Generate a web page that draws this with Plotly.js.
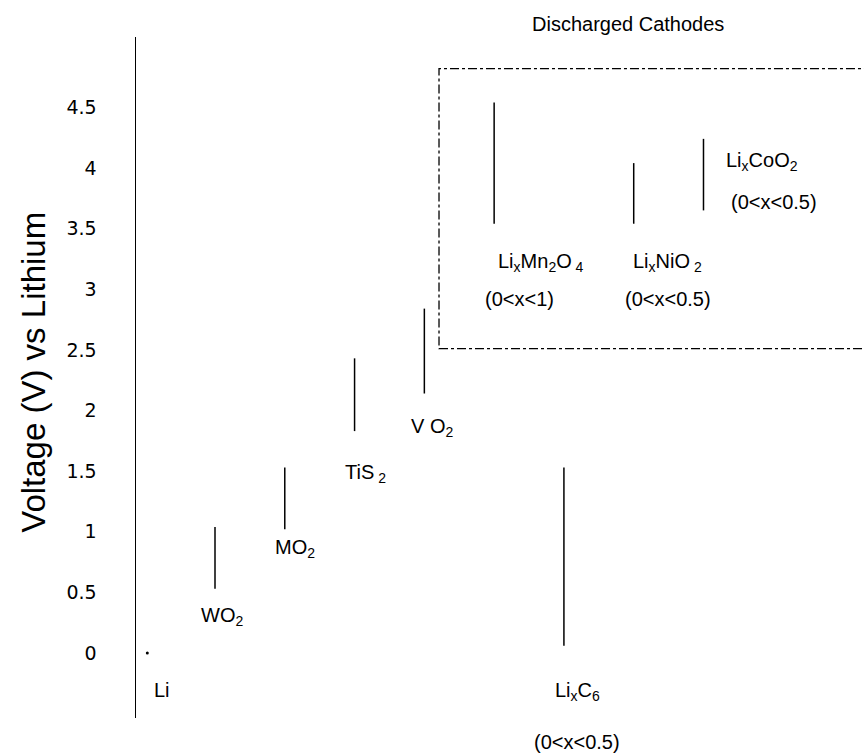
<!DOCTYPE html>
<html>
<head>
<meta charset="utf-8">
<script src="https://cdn.plot.ly/plotly-3.0.1.min.js"></script>
<style>html,body{margin:0;padding:0;background:#fff;}#chart{width:864px;height:755px;}</style>
</head>
<body>
<div id="chart"></div>
<script>
// Voltage windows (V vs Li) of each electrode material
const materials = ["WO2", "MO2", "TiS2", "VO2", "LixMn2O4", "LixC6", "LixNiO2", "LixCoO2"];
const positions = [1, 2, 3, 4, 5, 6, 7, 8];
const vLow  = [0.53, 1.02, 1.83, 2.14, 3.54, 0.06, 3.54, 3.65];
const vHigh = [1.04, 1.53, 2.43, 2.84, 4.54, 1.53, 4.04, 4.24];

// lithium reference point
const liPos = [0.03];
const liV = [0];

// axis ticks
const tickVals = [0, 0.5, 1, 1.5, 2, 2.5, 3, 3.5, 4, 4.5];
const tickText = ["0", "0.5", "1", "1.5", "2", "2.5", "3", "3.5", "4", "4.5"];

// labels (text, x in category units, y in volts)
const labelText = ["Li", "WO<sub>2</sub>", "MO<sub>2</sub>", "TiS<sub> 2</sub>", "V O<sub>2</sub>",
  "Li<sub>x</sub>Mn<sub>2</sub>O<sub> 4</sub>", "(0&lt;x&lt;1)",
  "Li<sub>x</sub>NiO<sub> 2</sub>", "(0&lt;x&lt;0.5)",
  "Li<sub>x</sub>CoO<sub>2</sub>", "(0&lt;x&lt;0.5)",
  "Li<sub>x</sub>C<sub>6</sub>"];
const labelX = [0.24, 1.10, 2.14, 3.16, 4.11, 5.67, 5.37, 7.48, 7.49, 8.84, 9.01, 6.20];
const labelY = [-0.305, 0.30, 0.86, 1.48, 1.86, 3.22, 2.92, 3.22, 2.92, 4.05, 3.72, -0.32];

// cathode region box (x in category units, y in volts)
const boxX = [4.21, 10.6];
const boxY = [2.51, 4.82];

const lx = [], ly = [];
for (let i = 0; i < materials.length; i++) {
  lx.push(positions[i], positions[i], null);
  ly.push(vLow[i], vHigh[i], null);
}

const traces = [
  {x: lx, y: ly, mode: "lines", type: "scatter", line: {color: "#000", width: 1.5},
   hoverinfo: "skip", showlegend: false, cliponaxis: false},
  {x: liPos, y: liV, mode: "markers", type: "scatter", marker: {color: "#000", size: 3},
   hoverinfo: "skip", showlegend: false}
];

const labelFont = {family: "Liberation Sans, Arial, sans-serif", size: 20, color: "#000"};
const annotations = labelText.map((t, i) => ({
  text: t, x: labelX[i], y: labelY[i], xref: "x", yref: "y",
  showarrow: false, xanchor: "center", yanchor: "middle", font: labelFont
}));
annotations.push({
  text: "(0&lt;x&lt;0.5)", x: 6.19, y: -0.035, xref: "x", yref: "paper",
  showarrow: false, xanchor: "center", yanchor: "middle", font: labelFont
});
annotations.push({
  text: "Discharged Cathodes", x: 6.92, y: 1.019, xref: "x", yref: "paper",
  showarrow: false, xanchor: "center", yanchor: "middle",
  font: {family: "Liberation Sans, Arial, sans-serif", size: 20, color: "#000"}
});
annotations.push({
  text: "Voltage (V) vs Lithium", x: -0.14, y: 0.507, xref: "paper", yref: "paper",
  showarrow: false, xanchor: "center", yanchor: "middle", textangle: -90,
  font: {family: "Liberation Sans, Arial, sans-serif", size: 33, color: "#000"}
});

const layout = {
  width: 864, height: 755,
  margin: {l: 136, r: 0, t: 37, b: 37, pad: 0},
  paper_bgcolor: "#fff", plot_bgcolor: "#fff",
  showlegend: false,
  xaxis: {range: [-0.132, 10.30], visible: false, showgrid: false, zeroline: false, fixedrange: true},
  yaxis: {
    range: [-0.536, 5.08], showgrid: false, zeroline: false,
    showline: true, linecolor: "#000", linewidth: 1.5,
    tickmode: "array", tickvals: tickVals, ticktext: tickText,
    ticks: "outside", ticklen: 34, tickcolor: "rgba(0,0,0,0)",
    tickfont: {family: "DejaVu Sans, sans-serif", size: 19, color: "#000"},
    fixedrange: true
  },
  shapes: [{
    type: "rect", xref: "x", yref: "y",
    x0: boxX[0], x1: boxX[1], y0: boxY[0], y1: boxY[1],
    line: {color: "#000", width: 1.3, dash: "dashdot"}, fillcolor: "rgba(0,0,0,0)"
  }],
  annotations: annotations
};

Plotly.newPlot("chart", traces, layout, {displayModeBar: false, staticPlot: true});
</script>
</body>
</html>
